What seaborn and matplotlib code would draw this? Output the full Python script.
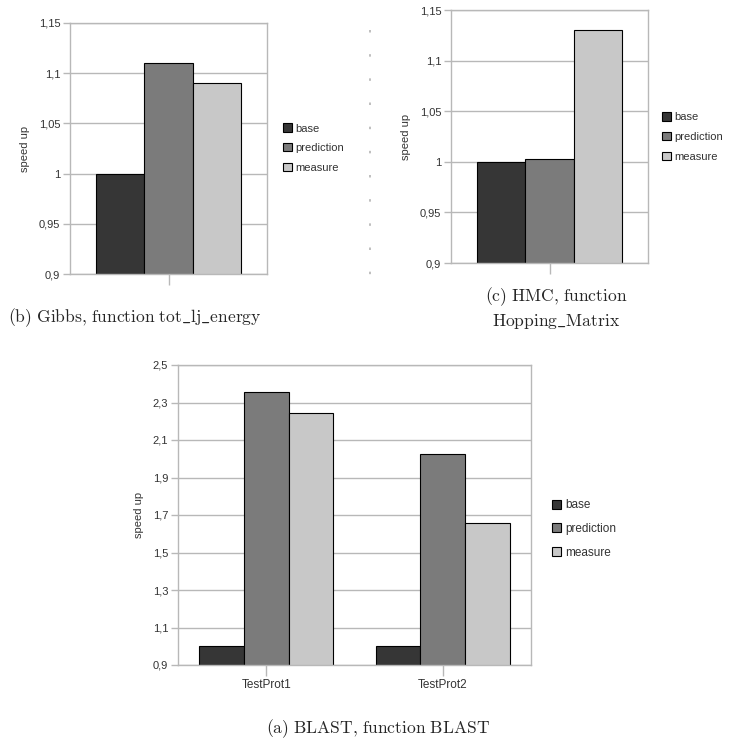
import numpy as np
import pandas as pd
import matplotlib
matplotlib.use('Agg')
import matplotlib.pyplot as plt
from matplotlib.lines import Line2D
import seaborn as sns

# data
series = ['base', 'prediction', 'measure']
series_colors = ['#363636', '#7b7b7b', '#c8c8c8']

gibbs_values = [1.0, 1.11, 1.09]
hmc_values = [1.0, 1.003, 1.13]

blast_tests = ['TestProt1', 'TestProt2']
blast_base = [1.0, 1.0]
blast_prediction = [2.355, 2.025]
blast_measure = [2.245, 1.655]

small_ticks = [0.9, 0.95, 1.0, 1.05, 1.1, 1.15]
small_tick_labels = ['0,9', '0,95', '1', '1,05', '1,1', '1,15']
blast_ticks = [0.9, 1.1, 1.3, 1.5, 1.7, 1.9, 2.1, 2.3, 2.5]
blast_tick_labels = ['0,9', '1,1', '1,3', '1,5', '1,7', '1,9', '2,1', '2,3', '2,5']

W, H = 735, 751
GRID = '#b8b8b8'
TXT = '#333333'

sns.set_style('white')
plt.rcParams['font.family'] = ['Liberation Sans', 'DejaVu Sans']
plt.rcParams['mathtext.fontset'] = 'cm'

fig = plt.figure(figsize=(W / 100, H / 100), dpi=100)


def px_axes(left, top, right, bottom):
    return fig.add_axes([left / W, 1 - bottom / H, (right - left) / W, (bottom - top) / H])


def style_axes(ax, ticks, labels, lim):
    ax.set_ylim(*lim)
    ax.set_yticks(ticks)
    ax.set_yticklabels(labels)
    ax.yaxis.grid(True, color=GRID, linewidth=1)
    ax.set_axisbelow(True)
    for s in ax.spines.values():
        s.set_color(GRID)
        s.set_linewidth(1)
    ax.tick_params(axis='both', length=5, width=1, color=GRID, labelsize=8,
                   labelcolor=TXT, pad=2, left=True, bottom=True)
    ax.set_ylabel('speed up', fontsize=8, color=TXT, labelpad=6)
    ax.set_xlabel('')


def add_legend(ax, x, y, fs, spacing):
    handles = [plt.Rectangle((0, 0), 1, 1, facecolor=c, edgecolor='black', linewidth=0.8)
               for c in series_colors]
    ax.legend(handles, series, loc='center left', bbox_to_anchor=(x / W, 1 - y / H),
              bbox_transform=fig.transFigure, frameon=False, fontsize=fs,
              handlelength=0.8, handleheight=0.8, handletextpad=0.3,
              labelspacing=spacing, borderaxespad=0, borderpad=0)
    for t in ax.get_legend().get_texts():
        t.set_color(TXT)


# (b) Gibbs
df_b = pd.DataFrame({'case': [''] * 3, 'series': series, 'speedup': gibbs_values})
ax_b = px_axes(70, 23, 267, 274)
sns.barplot(data=df_b, x='case', y='speedup', hue='series', hue_order=series,
            palette=series_colors, edgecolor='black', linewidth=0.8, width=0.8,
            legend=False, ax=ax_b)
ax_b.set_xlim(-0.54, 0.54)
style_axes(ax_b, small_ticks, small_tick_labels, (0.9, 1.15))
ax_b.tick_params(axis='x', length=8)
add_legend(ax_b, 283, 148, 8, 0.85)

# (c) HMC
df_c = pd.DataFrame({'case': [''] * 3, 'series': series, 'speedup': hmc_values})
ax_c = px_axes(451, 10, 648, 263)
sns.barplot(data=df_c, x='case', y='speedup', hue='series', hue_order=series,
            palette=series_colors, edgecolor='black', linewidth=0.8, width=0.8,
            legend=False, ax=ax_c)
ax_c.set_xlim(-0.54, 0.54)
style_axes(ax_c, small_ticks, small_tick_labels, (0.9, 1.15))
ax_c.tick_params(axis='x', length=8)
add_legend(ax_c, 662, 137, 8, 0.85)

# (a) BLAST
df_a = pd.DataFrame({
    'case': blast_tests * 3,
    'series': [s for s in series for _ in blast_tests],
    'speedup': blast_base + blast_prediction + blast_measure,
})
ax_a = px_axes(178, 365, 531, 665)
sns.barplot(data=df_a, x='case', y='speedup', hue='series', hue_order=series,
            palette=series_colors, edgecolor='black', linewidth=0.8, width=0.76,
            legend=False, ax=ax_a)
ax_a.set_xlim(-0.5, 1.5)
style_axes(ax_a, blast_ticks, blast_tick_labels, (0.9, 2.5))
ax_a.tick_params(axis='x', length=8, labelsize=8.5)
add_legend(ax_a, 552, 529, 8.5, 1.0)

# faint dashed separator between the two top panels
fig.add_artist(Line2D([370 / W, 370 / W], [1 - 30 / H, 1 - 280 / H],
                      transform=fig.transFigure, color='#b4b4b4', linewidth=1.2,
                      linestyle=(0, (1.5, 13))))

# captions (computer modern via mathtext so the underscores render)
def cm(s):
    s = s.replace(',', '{,}').replace(' ', '\\ ').replace('_', '\\_')
    return '$\\mathrm{' + s + '}$'


fig.text(8 / W, 1 - 318 / H, cm('(b) Gibbs, function tot_lj_energy'),
         fontsize=12.6, ha='left', va='center')
fig.text(556 / W, 1 - 297 / H, cm('(c) HMC, function'),
         fontsize=12.6, ha='center', va='center')
fig.text(556 / W, 1 - 321 / H, cm('Hopping_Matrix'),
         fontsize=12.6, ha='center', va='center')
fig.text(378 / W, 1 - 729 / H, cm('(a) BLAST, function BLAST'),
         fontsize=12.6, ha='center', va='center')

fig.savefig('out.png', dpi=100)
